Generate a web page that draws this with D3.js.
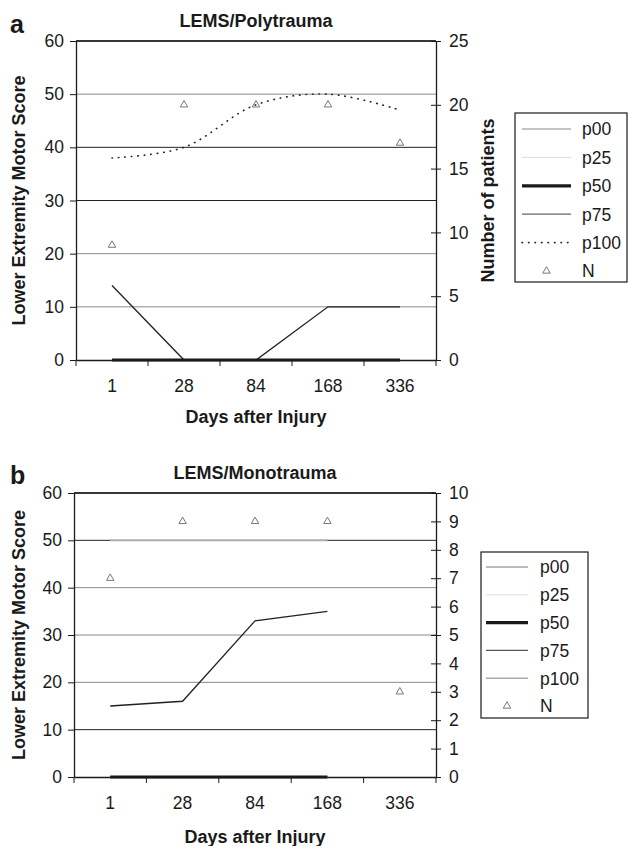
<!DOCTYPE html>
<html>
<head>
<meta charset="utf-8">
<script src="https://cdn.jsdelivr.net/npm/d3@7"></script>
<style>
  body { margin: 0; background: #fff; }
  svg { font-family: Arial, "Liberation Sans", Helvetica, sans-serif; }
</style>
</head>
<body>
<svg id="chart" width="628" height="846"></svg>
<script>
// categories and ticks
const days = ["1", "28", "84", "168", "336"];
const scoreTicks = [0, 10, 20, 30, 40, 50, 60];
const polyNTicks = [0, 5, 10, 15, 20, 25];
const monoNTicks = [0, 1, 2, 3, 4, 5, 6, 7, 8, 9, 10];
const legendKeys = ["p00", "p25", "p50", "p75", "p100", "N"];

// a: polytrauma
const polyP00 = [0, 0, 0, 0, 0];
const polyP25 = [0, 0, 0, 0, 0];
const polyP50 = [0, 0, 0, 0, 0];
const polyP75 = [14, 0, 0, 10, 10];
const polyP100 = [38, 40, 48, 50, 47];
const polyN = [9, 20, 20, 20, 17];

// b: monotrauma (no LEMS values at day 336)
const monoP00 = [0, 0, 0, 0, null];
const monoP25 = [0, 0, 0, 0, null];
const monoP50 = [0, 0, 0, 0, null];
const monoP75 = [15, 16, 33, 35, null];
const monoP100 = [50, 50, 50, 50, null];
const monoN = [7, 9, 9, 9, 3];

const svg = d3.select("#chart");
const ink = "#1a1a1a";

function drawPanel(p) {
  const g = svg.append("g").attr("transform", `translate(${p.left},${p.top})`);

  const x = d3.scaleBand().domain(days).range([0, p.width]);
  const y = d3.scaleLinear().domain([0, 60]).range([p.height, 0]);
  const y2 = d3.scaleLinear().domain([0, p.nTicks[p.nTicks.length - 1]]).range([p.height, 0]);
  const cx = (d) => x(d) + x.bandwidth() / 2;

  // horizontal gridlines
  g.selectAll(".grid")
    .data(scoreTicks.slice(1))
    .join("line")
    .attr("class", "grid")
    .attr("x1", 0)
    .attr("x2", p.width)
    .attr("y1", (d) => y(d))
    .attr("y2", (d) => y(d))
    .attr("stroke", (d, i) => p.gridColors[i])
    .attr("stroke-width", 1);

  // series lines
  p.series.forEach((s) => {
    const line = d3
      .line()
      .defined((v) => v != null)
      .x((v, i) => cx(days[i]))
      .y((v) => y(v))
      .curve(s.curve || d3.curveLinear);
    g.append("path")
      .attr("d", line(s.values))
      .attr("fill", "none")
      .attr("stroke", s.color)
      .attr("stroke-width", s.width)
      .attr("stroke-dasharray", s.dash || null)
      .attr("stroke-linecap", s.dash ? "round" : "butt");
  });

  // N markers on the right axis
  g.selectAll(".n")
    .data(p.n)
    .join("path")
    .attr("class", "n")
    .attr("d", d3.symbol(d3.symbolTriangle, 24))
    .attr("transform", (v, i) => `translate(${cx(days[i])},${y2(v)})`)
    .attr("fill", "none")
    .attr("stroke", "#777")
    .attr("stroke-width", 1);

  // axes
  const left = g
    .append("g")
    .call(d3.axisLeft(y).tickValues(scoreTicks).tickSize(6).tickSizeOuter(0).tickPadding(6));

  const right = g
    .append("g")
    .attr("transform", `translate(${p.width},0)`)
    .call(d3.axisRight(y2).tickValues(p.nTicks).tickSize(5).tickSizeOuter(0).tickPadding(8));
  right.selectAll(".tick line").attr("x1", -5);

  const bottom = g
    .append("g")
    .attr("transform", `translate(0,${p.height})`)
    .call(d3.axisBottom(x).tickSize(0).tickSizeOuter(0).tickPadding(20));
  const bounds = days.map((d) => x(d)).concat([x.range()[1]]);
  bottom
    .selectAll(".bound")
    .data(bounds)
    .join("line")
    .attr("class", "bound")
    .attr("x1", (d) => d)
    .attr("x2", (d) => d)
    .attr("y1", 0)
    .attr("y2", 6)
    .attr("stroke", ink);

  [left, right, bottom].forEach((a) => {
    a.selectAll("path.domain").attr("stroke", ink).attr("stroke-width", 1.3);
    a.selectAll(".tick line").attr("stroke", ink);
    a.selectAll("text").attr("font-size", 17.5).attr("fill", ink);
    a.attr("font-family", null);
  });

  // top border
  g.append("line")
    .attr("x1", 0)
    .attr("x2", p.width)
    .attr("y1", 0)
    .attr("y2", 0)
    .attr("stroke", ink)
    .attr("stroke-width", 1.3);

  // titles
  g.append("text")
    .attr("x", p.width / 2)
    .attr("y", -14)
    .attr("text-anchor", "middle")
    .attr("font-weight", "bold")
    .attr("font-size", 18)
    .attr("fill", ink)
    .text(p.title);

  svg
    .append("text")
    .attr("x", 10)
    .attr("y", p.letterY)
    .attr("font-weight", "bold")
    .attr("font-size", 25)
    .attr("fill", ink)
    .text(p.letter);

  g.append("text")
    .attr("x", p.width / 2)
    .attr("y", p.height + p.xTitleGap)
    .attr("text-anchor", "middle")
    .attr("font-weight", "bold")
    .attr("font-size", 18)
    .attr("fill", ink)
    .text("Days after Injury");

  g.append("text")
    .attr("transform", `translate(${25 - p.left},${p.height / 2}) rotate(-90)`)
    .attr("text-anchor", "middle")
    .attr("font-weight", "bold")
    .attr("font-size", 18)
    .attr("fill", ink)
    .text("Lower Extremity Motor Score");

  if (p.rightTitle) {
    g.append("text")
      .attr("transform", `translate(${494 - p.left},${p.height / 2}) rotate(-90)`)
      .attr("text-anchor", "middle")
      .attr("font-weight", "bold")
      .attr("font-size", 18)
      .attr("fill", ink)
      .text(p.rightTitle);
  }

  // legend (page coordinates)
  const L = p.legend;
  const lg = svg.append("g");
  lg.append("rect")
    .attr("x", L.x)
    .attr("y", L.y)
    .attr("width", L.w)
    .attr("height", L.h)
    .attr("fill", "#fff")
    .attr("stroke", ink)
    .attr("stroke-width", 1.2);
  legendKeys.forEach((k, i) => {
    const yy = L.row0 + i * L.step;
    const s = p.series.find((d) => d.key === k);
    if (s) {
      lg.append("line")
        .attr("x1", L.lx1)
        .attr("x2", L.lx2)
        .attr("y1", yy)
        .attr("y2", yy)
        .attr("stroke", s.legendColor || s.color)
        .attr("stroke-width", s.width)
        .attr("stroke-dasharray", s.dash || null)
        .attr("stroke-linecap", s.dash ? "round" : "butt");
    } else {
      lg.append("path")
        .attr("d", d3.symbol(d3.symbolTriangle, 24))
        .attr("transform", `translate(${(L.lx1 + L.lx2) / 2},${yy})`)
        .attr("fill", "none")
        .attr("stroke", "#777");
    }
    lg.append("text")
      .attr("x", L.tx)
      .attr("y", yy)
      .attr("dy", "0.36em")
      .attr("font-size", 17.5)
      .attr("fill", ink)
      .text(k);
  });
}

drawPanel({
  letter: "a",
  letterY: 33,
  title: "LEMS/Polytrauma",
  left: 76,
  top: 41,
  width: 360,
  height: 319,
  xTitleGap: 63,
  nTicks: polyNTicks,
  n: polyN,
  rightTitle: "Number of patients",
  gridColors: ["#8a8a8a", "#8a8a8a", "#222", "#222", "#8a8a8a", "#222"],
  series: [
    { key: "p00", values: polyP00, color: "#888", width: 1 },
    { key: "p25", values: polyP25, color: "#ddd", width: 1 },
    { key: "p100", values: polyP100, color: "#222", width: 1.6, dash: "0.5,6", curve: d3.curveCatmullRom },
    { key: "p75", values: polyP75, color: "#222", legendColor: "#666", width: 1.3 },
    { key: "p50", values: polyP50, color: "#1a1a1a", width: 3.2 },
  ],
  legend: { x: 515, y: 113, w: 112, h: 169, row0: 129, step: 28.4, lx1: 522, lx2: 571, tx: 582 },
});

drawPanel({
  letter: "b",
  letterY: 484,
  title: "LEMS/Monotrauma",
  left: 74,
  top: 493,
  width: 362,
  height: 284,
  xTitleGap: 66,
  nTicks: monoNTicks,
  n: monoN,
  rightTitle: null,
  gridColors: ["#222", "#8a8a8a", "#8a8a8a", "#8a8a8a", "#222", "#222"],
  series: [
    { key: "p00", values: monoP00, color: "#777", width: 1 },
    { key: "p25", values: monoP25, color: "#ddd", width: 1 },
    { key: "p100", values: monoP100, color: "#aaa", width: 1.6 },
    { key: "p75", values: monoP75, color: "#222", legendColor: "#555", width: 1.3 },
    { key: "p50", values: monoP50, color: "#1a1a1a", width: 3.2 },
  ],
  legend: { x: 481, y: 552, w: 107, h: 166, row0: 567, step: 27.8, lx1: 486, lx2: 528, tx: 540 },
});
</script>
</body>
</html>
